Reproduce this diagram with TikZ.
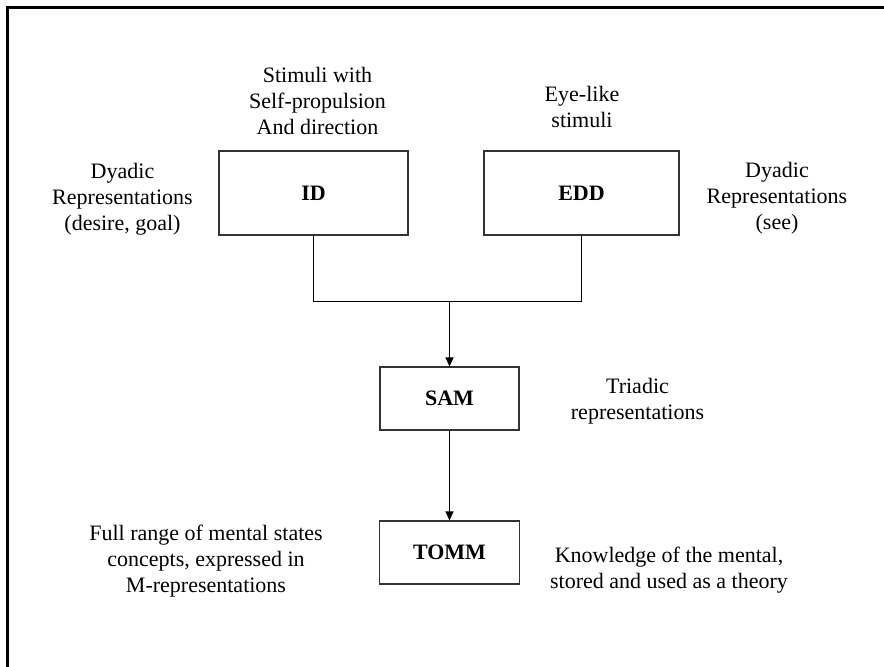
\documentclass[tikz,border=0pt]{standalone}
\usepackage{fontspec}
\setmainfont{Liberation Serif}
\usetikzlibrary{arrows.meta}

\tikzset{
  frame/.style={line width=2.5pt, black},
  module/.style={draw=black!80, line width=1.1pt, fill=white,
    font=\fontsize{22}{26}\selectfont\bfseries, inner sep=0pt},
  note/.style={align=center, inner sep=0pt, anchor=north, yshift=18.2pt,
    font=\fontsize{22}{26}\selectfont},
  link/.style={draw=black, line width=1pt},
  flow/.style={link, -{Triangle[length=9pt,width=8pt]}}
}

\begin{document}
\begin{tikzpicture}[x=1pt,y=-1pt]
  \useasboundingbox (0,0) rectangle (884,667);

  % partial outer frame (left and top edges)
  \draw[frame] (7.5,667) -- (7.5,7.5) -- (884,7.5);

  % modules
  \node[module, minimum width=189pt, minimum height=84pt] (ID)   at (313.5,193) {ID};
  \node[module, minimum width=195pt, minimum height=84pt] (EDD)  at (581.5,193) {EDD};
  \node[module, minimum width=139pt, minimum height=63pt] (SAM)  at (449.5,398.5) {SAM};
  \node[module, minimum width=140pt, minimum height=63pt] (TOMM) at (449.5,552.5) {TOMM};

  % annotations
  \node[note] (stimID) at (317.5,82) {\strut Stimuli with\\Self-propulsion\\And direction};
  \node[note] (stimEDD) at (582,101) {\strut Eye-like\\stimuli};
  \node[note] (dyadL) at (122.5,178) {\strut Dyadic\\Representations\\(desire, goal)};
  \node[note] (dyadR) at (777,177) {\strut Dyadic\\Representations\\(see)};
  \node[note] (triad) at (637.5,393) {\strut Triadic\\representations};
  \node[note] (full) at (206,540) {\strut Full range of mental states\\concepts, expressed in\\M-representations};
  \node[note] (know) at (669,562) {\strut Knowledge of the mental,\\stored and used as a theory};

  % connectors
  \coordinate (merge) at (SAM.north |- 0,301);
  \draw[link] (ID.south) -- (ID.south |- merge) -- (EDD.south |- merge) -- (EDD.south);
  \draw[flow] (merge) -- (SAM.north);
  \draw[flow] (SAM.south) -- (TOMM.north);
\end{tikzpicture}
\end{document}
